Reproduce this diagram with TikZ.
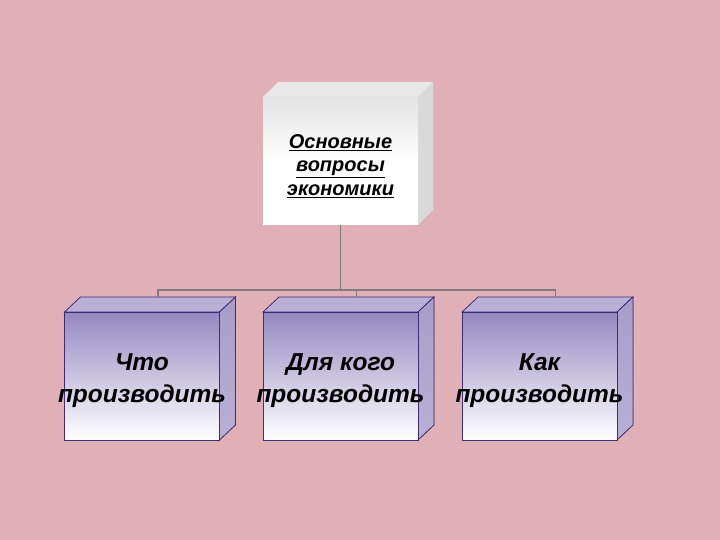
\documentclass[tikz,border=0pt]{standalone}
\usepackage{fontspec}
\setmainfont{Liberation Sans}
\usetikzlibrary{calc}

\definecolor{bgpink}{RGB}{224,176,182}
\definecolor{boxedge}{RGB}{62,44,122}
\definecolor{boxtop}{RGB}{148,136,192}
\definecolor{boxside}{RGB}{166,156,200}
\definecolor{boxlid}{RGB}{186,176,214}
\definecolor{linkgray}{RGB}{128,122,128}

\newcommand{\boxline}[1]{\makebox[0pt]{#1}}

\begin{document}
\begin{tikzpicture}[x=1pt,y=-1pt,
	qbox/.style={rectangle,minimum width=155,minimum height=128,inner sep=0pt,
		top color=gray!22,bottom color=white,middle color=white,align=center,
		font=\fontsize{20}{23.5}\selectfont\bfseries\itshape},
	abox/.style={rectangle,draw=boxedge,line width=0.8pt,minimum width=155,minimum height=128,
		inner sep=0pt,top color=boxtop,bottom color=white,align=center,
		font=\fontsize{24.5}{32}\selectfont\bfseries\itshape},
	link/.style={draw=linkgray,line width=1.5pt}]
	\fill[bgpink] (0,0) rectangle (720,540);

	% top box
	\fill[gray!18] (263,97) -- (278,82) -- (433,82) -- (418,97) -- cycle;
	\fill[gray!30] (418,97) -- (433,82) -- (433,210) -- (418,225) -- cycle;
	\node[qbox] at (340.5,161) (Q) {\rule{0pt}{8pt}\\[-8pt]\underline{Основные}\\\underline{вопросы}\\\underline{экономики}};

	% answer boxes
	\foreach \x in {142,340.5,539.5}{
		\filldraw[fill=boxlid,draw=boxedge,line width=0.8pt]
			(\x-77.5,312) -- ++(16,-15) -- ++(155,0) -- ++(-16,15) -- cycle;
		\filldraw[top color=boxside,bottom color=boxlid,draw=boxedge,line width=0.8pt]
			(\x+77.5,312) -- ++(16,-15) -- ++(0,128) -- ++(-16,15) -- cycle;
	}
	\node[abox] at (142,376) (A) {\rule{0pt}{6pt}\\[-11pt]\boxline{Что}\\\boxline{производить}};
	\node[abox] at (340.5,376) (B) {\rule{0pt}{6pt}\\[-11pt]\boxline{Для кого}\\\boxline{производить}};
	\node[abox] at (539.5,376) (C) {\rule{0pt}{6pt}\\[-11pt]\boxline{Как}\\\boxline{производить}};
	\coordinate (Atop) at ($(A.north)+(16,-15)$);
	\coordinate (Btop) at ($(B.north)+(16,-15)$);
	\coordinate (Ctop) at ($(C.north)+(16,-15)$);

	% links
	\coordinate (bus) at (340.5,290);
	\draw[link] (Q.south) -- (bus);
	\draw[link] (Atop) -- (Atop |- bus) -- (Ctop |- bus) -- (Ctop);
	\draw[link] (Btop) -- (Btop |- bus);
\end{tikzpicture}
\end{document}
